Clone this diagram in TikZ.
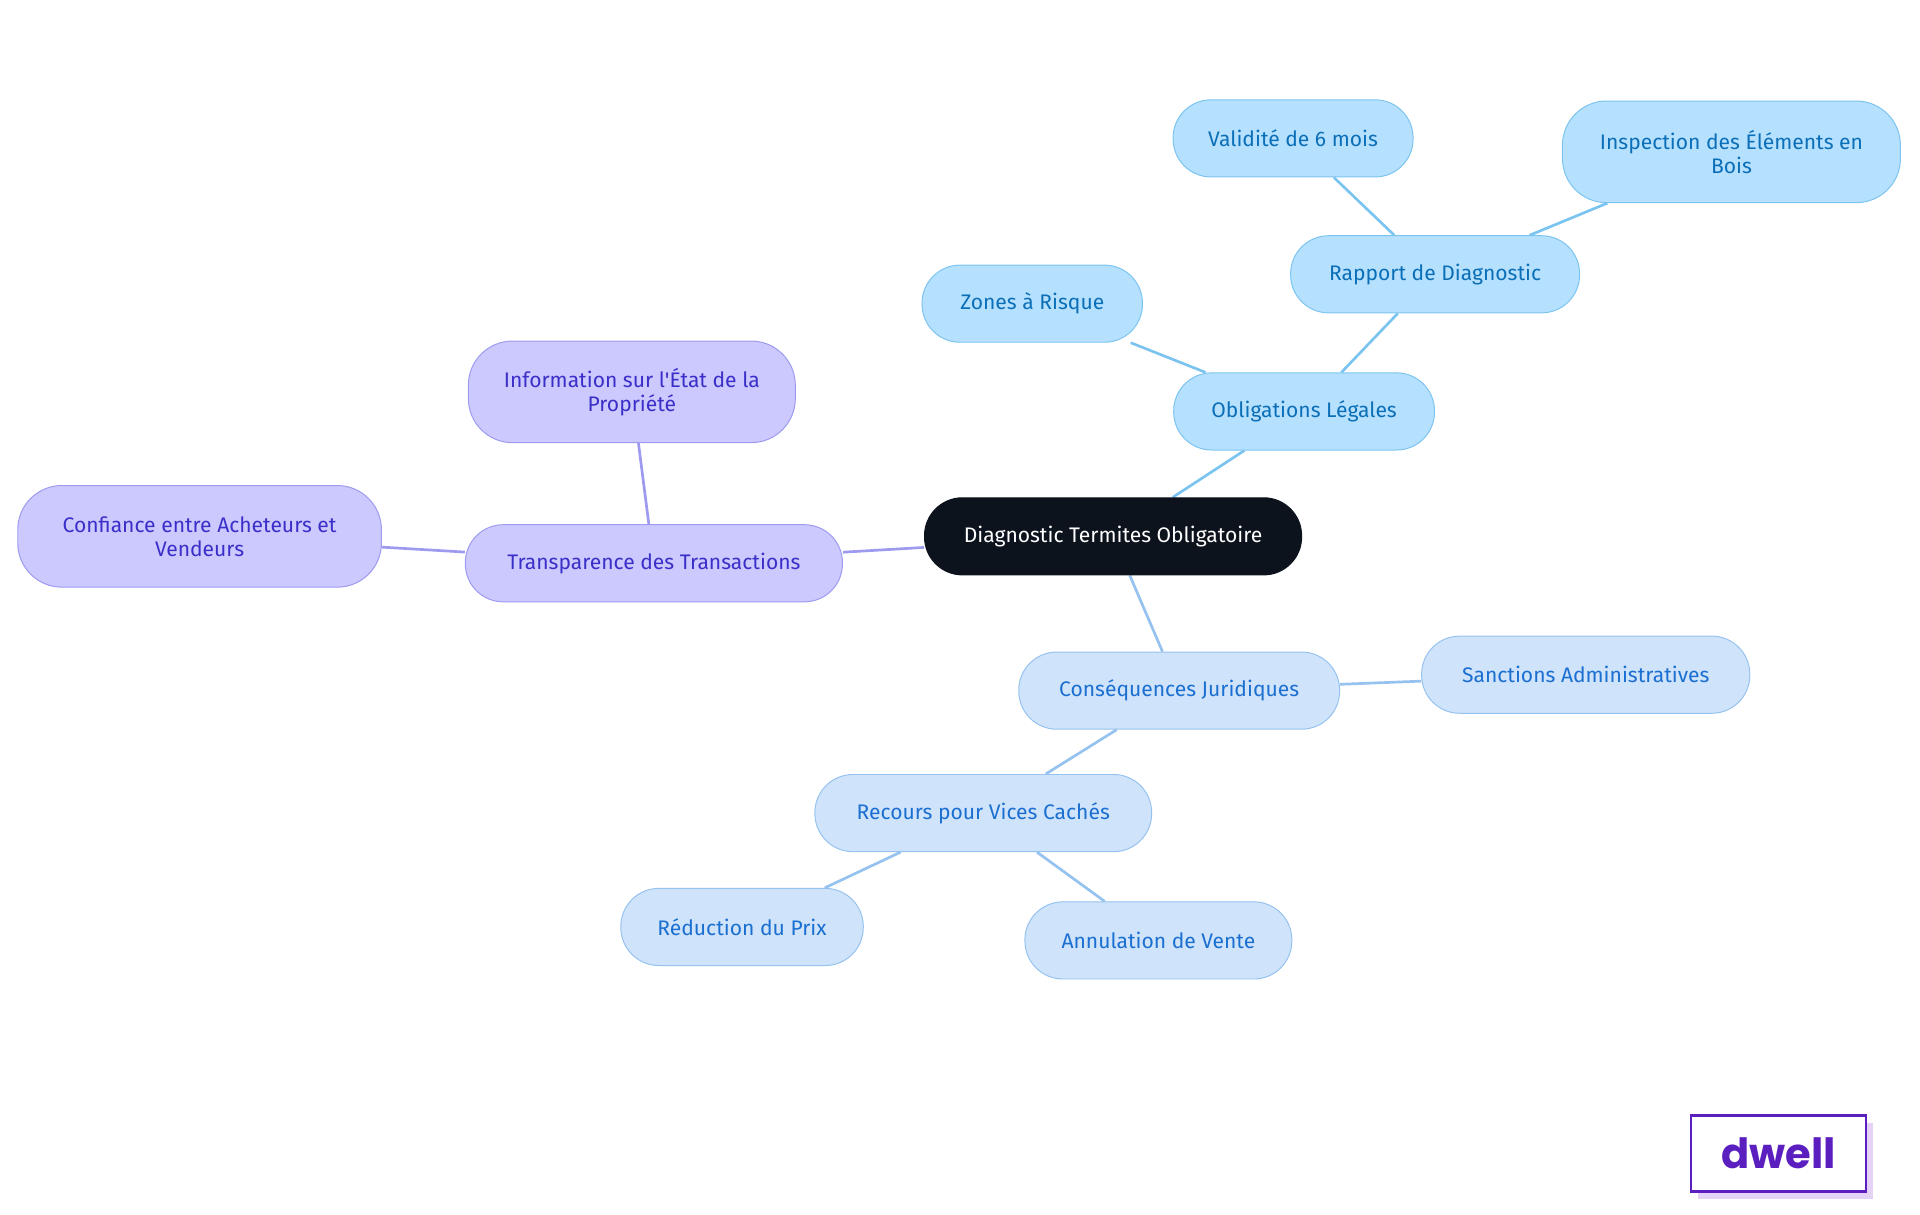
\documentclass[tikz,border=0pt]{standalone}
\usepackage{fontspec}
\setmainfont{Fira Sans}
\newfontfamily\logofont{Poppins}
\usetikzlibrary{backgrounds}
\begin{document}
\begin{tikzpicture}[x=0.5pt,y=-0.5pt]
\definecolor{bF}{HTML}{B5E0FE}\definecolor{bD}{HTML}{7CC4F0}\definecolor{bT}{HTML}{0B6FB8}
\definecolor{pF}{HTML}{CBC9FD}\definecolor{pD}{HTML}{9D9AF0}\definecolor{pT}{HTML}{3B2FC9}
\definecolor{lF}{HTML}{CFE3FB}\definecolor{lD}{HTML}{95C2EF}\definecolor{lT}{HTML}{1A6FD0}
\definecolor{root}{HTML}{0D131D}\definecolor{dw}{HTML}{5B1FC0}\definecolor{dws}{HTML}{E4D2F7}
\tikzset{
 bx/.style={rounded corners=15.5pt,minimum height=31.5pt,inner sep=0pt,align=center,font=\fontsize{8.6}{9.8}\selectfont},
 bb/.style={bx,fill=bF,draw=bD,text=bT},
 pp/.style={bx,fill=pF,draw=pD,text=pT},
 ll/.style={bx,fill=lF,draw=lD,text=lT},
 eb/.style={draw=bD,line width=1.1pt},
 ep/.style={draw=pD,line width=1.1pt},
 el/.style={draw=lD,line width=1.1pt}}
\useasboundingbox (0,0) rectangle (1568,992);
\node[bx,fill=root,draw=root,text=white,minimum width=154pt] (r) at (909,438) {Diagnostic Termites Obligatoire};
\node[bb,minimum width=106.5pt] (ol) at (1065,336) {Obligations Légales};
\node[bb,minimum width=90pt] (zr) at (843,248) {Zones à Risque};
\node[bb,minimum width=118pt] (rd) at (1172,224) {Rapport de Diagnostic};
\node[bb,minimum width=98pt] (v6) at (1056,113) {Validité de 6 mois};
\node[bb,minimum width=138pt,minimum height=41.5pt,rounded corners=18pt] (ie) at (1414,124) {Inspection des Éléments en\\Bois};
\node[pp,minimum width=154pt] (tt) at (534,460) {Transparence des Transactions};
\node[pp,minimum width=133.5pt,minimum height=41.5pt,rounded corners=18pt] (ip) at (516,320) {Information sur l\textquotesingle État de la\\Propriété};
\node[pp,minimum width=148.5pt,minimum height=41.5pt,rounded corners=18pt] (ca) at (163,438) {Confiance entre Acheteurs et\\Vendeurs};
\node[ll,minimum width=131pt] (cj) at (963,564) {Conséquences Juridiques};
\node[ll,minimum width=134pt] (sa) at (1295,551) {Sanctions Administratives};
\node[ll,minimum width=137.5pt] (rv) at (803,664) {Recours pour Vices Cachés};
\node[ll,minimum width=99pt] (rp) at (606,757) {Réduction du Prix};
\node[ll,minimum width=109pt] (av) at (946,768) {Annulation de Vente};
\begin{scope}[on background layer]
\path[eb] (r) -- (ol); \path[eb] (ol) -- (zr); \path[eb] (ol) -- (rd);
\path[eb] (rd) -- (v6); \path[eb] (rd) -- (ie);
\path[ep] (r) -- (tt); \path[ep] (tt) -- (ip); \path[ep] (tt) -- (ca);
\path[el] (r) -- (cj); \path[el] (cj) -- (sa); \path[el] (cj) -- (rv);
\path[el] (rv) -- (rp); \path[el] (rv) -- (av);
\end{scope}
\fill[dws] (1387,917) rectangle (1530,979);
\node[draw=dw,fill=white,line width=1pt,minimum width=71.5pt,minimum height=31pt,inner sep=0pt,text=dw,font=\logofont\bfseries\fontsize{17}{18}\selectfont] (dwell) at (1452.5,942) {dwell};
\end{tikzpicture}
\end{document}
